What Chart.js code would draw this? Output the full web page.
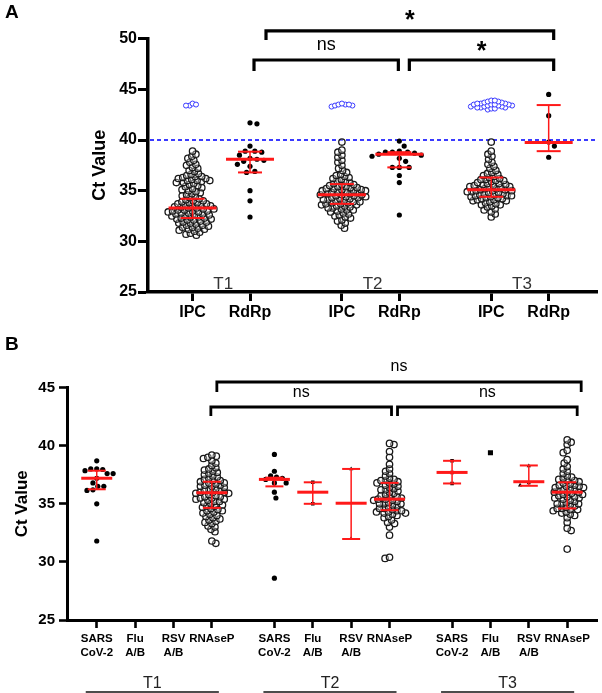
<!DOCTYPE html>
<html><head><meta charset="utf-8">
<script src="https://cdn.jsdelivr.net/npm/chart.js@4.4.1/dist/chart.umd.min.js"></script>
<style>
html,body{margin:0;padding:0;background:#fff;width:602px;height:693px;overflow:hidden;}
#wrapA{position:absolute;left:0;top:0;width:602px;height:330px;}
#wrapB{position:absolute;left:0;top:330px;width:602px;height:363px;}
.lbl{position:absolute;z-index:3;font:bold 19px "Liberation Sans",Arial,sans-serif;line-height:19px;color:#000;}
</style></head><body>
<div id="wrapA"><canvas id="cA" width="602" height="330"></canvas></div>
<div id="wrapB"><canvas id="cB" width="602" height="363"></canvas></div>
<div class="lbl" style="left:5px;top:2px">A</div>
<div class="lbl" style="left:5px;top:334px">B</div>
<script>
const FONT = '"Liberation Sans", Arial, Helvetica, sans-serif';
const RED = 'rgb(255,25,25)';
const BLUE = '#3a3aff';

// ---------------- Panel A data ----------------
const groupsA = ['T1', 'T2', 'T3'];
const targetsA = ['IPC', 'RdRp'];
const yTicksA = [25, 30, 35, 40, 45, 50];
const cutoffA = 40;
const ipcT1 = [30.6,30.7,30.8,30.9,31.0,31.1,31.2,31.2,31.3,31.4,31.4,31.5,31.6,31.6,31.7,31.8,31.8,31.9,31.9,32.0,
  32.1,32.1,32.2,32.2,32.3,32.3,32.4,32.4,32.5,32.5,32.6,32.6,32.7,32.7,32.8,32.8,32.9,32.9,33.0,33.0,33.0,
  33.1,33.1,33.2,33.2,33.3,33.3,33.4,33.4,33.5,33.5,33.6,33.6,33.7,33.7,33.8,33.8,33.9,34.0,34.0,
  34.1,34.2,34.3,34.4,34.5,34.6,34.7,34.8,34.9,35.0,35.1,35.2,35.3,35.4,35.5,35.6,35.7,35.8,35.8,35.9,36.0,36.0,36.0,
  36.1,36.2,36.2,36.3,36.4,36.4,36.5,36.6,36.7,36.9,37.0,37.2,37.3,37.5,37.6,37.8,38.0,38.2,38.4,38.6,38.9];
const rdrpT1 = [41.7,41.6,39.4,38.9,38.9,38.8,38.5,38.2,38.1,38.0,37.9,37.6,37.4,36.9,36.8,35.0,34.0,32.4];
const undetT1 = [43.4,43.6,43.5,43.4];
const ipcT2 = [31.3,31.6,31.8,32.0,32.1,32.3,32.4,32.5,32.6,32.7,32.8,32.9,33.0,
  33.1,33.1,33.2,33.3,33.3,33.4,33.5,33.5,33.6,33.6,33.7,33.7,33.8,33.8,33.9,33.9,34.0,34.0,34.1,34.1,34.2,34.2,34.3,34.3,34.4,34.4,
  34.5,34.5,34.6,34.6,34.6,34.7,34.7,34.8,34.8,34.9,34.9,35.0,35.0,35.0,35.1,35.1,35.2,35.2,35.3,35.3,35.4,35.4,35.5,35.6,35.6,35.7,35.8,
  35.9,36.0,36.1,36.2,36.3,36.4,36.5,36.6,36.8,37.0,37.2,37.5,37.8,38.0,38.3,38.5,38.8,39.0,39.8];
const rdrpT2 = [39.9,39.4,38.9,38.8,38.8,38.8,38.7,38.6,38.5,38.4,38.2,37.9,37.3,37.3,37.3,36.5,35.8,32.6];
const undetT2 = [43.3,43.4,43.5,43.5,43.6,43.4,43.5];
const ipcT3 = [32.4,32.7,32.9,33.1,33.2,33.4,33.5,33.6,33.6,33.7,33.8,33.9,
  34.0,34.0,34.1,34.1,34.2,34.2,34.3,34.3,34.4,34.4,34.5,34.5,34.5,34.6,34.6,34.7,34.7,34.8,34.8,34.9,34.9,
  35.0,35.0,35.0,35.1,35.1,35.2,35.2,35.3,35.3,35.4,35.4,35.5,35.5,35.6,35.6,35.7,35.7,35.8,35.9,
  36.0,36.0,36.1,36.1,36.2,36.3,36.4,36.5,36.6,36.7,36.8,37.0,37.2,37.4,37.6,37.8,38.1,38.4,38.6,38.9,39.8];
const rdrpT3 = [44.5,42.4,39.8,39.4,38.3];
const undetT3 = [43.0,43.1,43.1,43.2,43.2,43.2,43.3,43.3,43.3,43.4,43.4,43.4,43.5,43.5,43.5,43.5,43.6,43.6,43.6,43.7,43.7,43.8,43.8,43.9,43.9];
const medianA = [33.3, 38.1, 34.6, 38.6, 35.1, 39.75];
const lowA    = [32.3, 36.8, 33.7, 37.3, 34.4, 38.9];
const highA   = [34.2, 38.85, 35.65, 38.8, 36.3, 43.45];

// ---------------- Panel B data ----------------
const groupsB = ['T1', 'T2', 'T3'];
const targetsB = [['SARS','CoV-2'], ['Flu','A/B'], ['RSV','A/B'], 'RNAseP'];
const yTicksB = [25, 30, 35, 40, 45];
const sarsT1 = [38.7,38.0,38.0,37.95,37.85,37.6,37.6,37.2,36.8,36.5,36.5,36.2,36.15,35.0,31.8];
const fluT1 = [];
const rsvT1 = [];
const rnaT1 = [31.6,31.8,32.6,32.8,33.0,33.1,33.3,33.4,33.5,33.6,33.7,33.8,33.9,34.0,
  34.1,34.2,34.3,34.4,34.4,34.5,34.6,34.7,34.8,34.8,34.9,35.0,35.1,35.2,35.2,35.3,35.4,35.4,35.5,35.5,35.6,35.6,35.7,35.8,35.9,35.9,36.0,36.0,36.0,
  36.1,36.2,36.2,36.3,36.4,36.5,36.5,36.6,36.6,36.7,36.8,36.8,36.9,37.0,37.0,37.1,37.2,37.3,37.4,37.5,37.6,37.7,37.8,37.9,38.0,
  38.1,38.3,38.5,38.7,38.9,39.0,39.1,39.2];
const sarsT2 = [39.25,37.8,37.4,37.3,37.2,37.1,36.8,36.8,36.0,35.5,28.6];
const fluT2 = [36.85,35.0];
const rsvT2 = [38.0,32.0];
const rnaT2 = [30.3,30.4,32.3,33.0,33.3,33.4,33.6,33.8,33.9,34.0,34.1,34.2,34.2,34.3,34.3,34.4,34.4,34.5,
  34.6,34.6,34.7,34.8,34.9,35.0,35.0,35.0,35.1,35.2,35.3,35.3,35.4,35.4,35.5,35.6,35.6,35.7,35.8,35.9,36.0,36.1,36.2,36.2,36.3,36.4,36.5,
  36.6,36.7,36.8,36.8,36.9,37.0,37.0,37.1,37.2,37.4,37.6,37.8,38.0,38.4,39.0,39.5,40.1,40.2];
const sarsT3 = [38.7,37.7,36.75];
const fluT3 = [39.4];
const rsvT3 = [38.25,36.8,36.6];
const rnaT3 = [31.1,32.7,32.9,33.4,33.8,34.0,34.1,34.2,34.3,34.4,34.5,34.5,34.6,34.6,34.7,34.8,34.9,35.0,35.0,35.0,35.1,
  35.2,35.3,35.4,35.5,35.5,35.6,35.6,35.7,35.8,35.8,35.9,36.0,36.0,36.0,36.1,36.2,36.2,36.3,36.4,36.4,36.5,36.5,36.6,36.6,36.7,36.8,36.9,37.0,37.0,
  37.1,37.2,37.3,37.4,37.6,37.8,38.0,38.2,38.5,38.8,39.4,39.6,40.1,40.3,40.5];
const medianB = [37.2, null, null, 35.95, 37.1, 36.0, 35.05, 35.4, 37.7, null, 36.9, 36.0];
const lowB    = [36.25, null, null, 34.65, 36.5, 35.0, 31.97, 34.45, 36.75, null, 36.55, 34.6];
const highB   = [37.85, null, null, 36.9, 37.25, 36.85, 38.0, 36.8, 38.7, null, 38.3, 36.85];

// ---------------- layout helpers ----------------
const GAP_A = 2.6;   // group spacing (in slot units) panel A
const GAP_B = 4.63;  // group spacing panel B
const posA = (g, k) => 1 + g * GAP_A + k;
const posB = (g, k) => g * GAP_B + k;
const catPosA = [], catLabelsA = [];
groupsA.forEach((g, gi) => targetsA.forEach((t, ti) => { catPosA.push(posA(gi, ti)); catLabelsA.push(t); }));
const catPosB = [], catLabelsB = [];
groupsB.forEach((g, gi) => targetsB.forEach((t, ti) => { catPosB.push(posB(gi, ti)); catLabelsB.push(t); }));

function swarm(ys, sep) {
  const idx = ys.map((y, i) => i).sort((a, b) => ys[a] - ys[b]);
  const placed = [], xs = new Array(ys.length);
  let flip = 1;
  for (const i of idx) {
    const y = ys[i];
    const near = placed.filter(p => Math.abs(p.y - y) < sep);
    const cands = [0];
    for (const p of near) {
      const dx = Math.sqrt(Math.max(sep * sep - (p.y - y) * (p.y - y), 0));
      cands.push(p.x + dx, p.x - dx);
    }
    cands.sort((a, b) => (Math.abs(a) - Math.abs(b)) || flip * (a - b));
    let best = 0;
    for (const c of cands) {
      if (near.every(p => (p.x - c) * (p.x - c) + (p.y - y) * (p.y - y) >= sep * sep - 1e-6)) { best = c; break; }
    }
    flip = -flip;
    xs[i] = best;
    placed.push({ x: best, y });
  }
  return xs;
}

function mkDs(values, center, sep, style) {
  return Object.assign({
    values, center, sep,
    data: values.map(v => ({ x: center, y: v })),
    pointBorderWidth: 1.3, pointHoverRadius: 0
  }, style);
}

function applySwarm(chart) {
  const xs = chart.scales.x, ys = chart.scales.y;
  chart.data.datasets.forEach(ds => {
    const cpx = xs.getPixelForValue(ds.center);
    const py = ds.values.map(v => ys.getPixelForValue(v));
    const off = swarm(py, ds.sep);
    ds.data = ds.values.map((v, i) => ({ x: xs.getValueForPixel(cpx + off[i]), y: v }));
  });
  chart.update('none');
}

function line(ctx, x1, y1, x2, y2) { ctx.beginPath(); ctx.moveTo(x1, y1); ctx.lineTo(x2, y2); ctx.stroke(); }

function textAt(ctx, txt, x, y, font, color) {
  ctx.save();
  ctx.font = font; ctx.fillStyle = color || '#000';
  ctx.textAlign = 'center'; ctx.textBaseline = 'alphabetic';
  const m = ctx.measureText(txt);
  const asc = m.actualBoundingBoxAscent, desc = m.actualBoundingBoxDescent;
  ctx.fillText(txt, x, y + (asc - desc) / 2);
  ctx.restore();
}

function drawBars(chart, pos, med, lo, hi, o) {
  const ctx = chart.ctx, xs = chart.scales.x, ys = chart.scales.y;
  ctx.save(); ctx.strokeStyle = RED; ctx.lineCap = 'butt';
  pos.forEach((p, i) => {
    if (med[i] == null) return;
    const x = xs.getPixelForValue(p);
    const ym = ys.getPixelForValue(med[i]), yl = ys.getPixelForValue(lo[i]), yh = ys.getPixelForValue(hi[i]);
    ctx.lineWidth = o.vw; line(ctx, x, yl, x, yh);
    ctx.lineWidth = o.cw;
    line(ctx, x - o.capW / 2, yl, x + o.capW / 2, yl);
    line(ctx, x - o.capW / 2, yh, x + o.capW / 2, yh);
    ctx.lineWidth = o.mw; line(ctx, x - o.medW / 2, ym, x + o.medW / 2, ym);
  });
  ctx.restore();
}

function drawBrackets(chart, list, pos, lw, labelFont, starFont) {
  const ctx = chart.ctx, xs = chart.scales.x, ys = chart.scales.y;
  ctx.save(); ctx.strokeStyle = '#000'; ctx.lineWidth = lw; ctx.lineJoin = 'miter'; ctx.lineCap = 'butt';
  list.forEach(b => {
    const x1 = xs.getPixelForValue(pos[b.from]) + b.dxFrom;
    const x2 = xs.getPixelForValue(pos[b.to]) + b.dxTo;
    const y = ys.getPixelForValue(b.y);
    ctx.beginPath(); ctx.moveTo(x1, y + b.drop); ctx.lineTo(x1, y); ctx.lineTo(x2, y); ctx.lineTo(x2, y + b.drop); ctx.stroke();
    textAt(ctx, b.label, (x1 + x2) / 2, y - b.gap, b.label === '*' ? starFont : labelFont, '#000');
  });
  ctx.restore();
}

// ---------------- Panel A chart ----------------
const bracketsA = [
  { from: 1, to: 5, dxFrom: 16, dxTo: 5, y: 50.77, drop: 9, gap: 16, label: '*' },
  { from: 1, to: 3, dxFrom: 4, dxTo: -1, y: 47.9, drop: 11, gap: 15, label: 'ns' },
  { from: 3, to: 5, dxFrom: 10, dxTo: 5, y: 47.9, drop: 11, gap: 14, label: '*' }
];
const ipcSets = [ipcT1, ipcT2, ipcT3], rdrpSets = [rdrpT1, rdrpT2, rdrpT3], undetSets = [undetT1, undetT2, undetT3];
const OPEN_FILL = 'rgba(255,255,255,0.35)';
const dsA = [];
groupsA.forEach((g, gi) => {
  dsA.push(mkDs(ipcSets[gi], posA(gi, 0), 4.5, { pointRadius: 3.2, pointStyle: 'circle', pointBackgroundColor: OPEN_FILL, pointBorderColor: '#1a1a1a' }));
  dsA.push(mkDs(rdrpSets[gi], posA(gi, 1), 7, { pointRadius: 2.6, pointStyle: 'circle', pointBackgroundColor: '#000', pointBorderColor: '#000', pointBorderWidth: 0 }));
  dsA.push(mkDs(undetSets[gi], posA(gi, 0), 3.6, { pointRadius: 2.5, pointStyle: 'circle', pointBackgroundColor: '#fff', pointBorderColor: BLUE, pointBorderWidth: 1 }));
});

const plugA = {
  id: 'annA',
  beforeDatasetsDraw(chart) {
    const ctx = chart.ctx, ys = chart.scales.y, a = chart.chartArea;
    const y = ys.getPixelForValue(cutoffA);
    ctx.save(); ctx.strokeStyle = BLUE; ctx.lineWidth = 2; ctx.setLineDash([4, 3]);
    line(ctx, a.left + 2, y, a.right, y); ctx.restore();
  },
  afterDatasetsDraw(chart) {
    drawBars(chart, catPosA, medianA, lowA, highA, { vw: 1.5, cw: 2, mw: 3, capW: 24, medW: 48 });
    const xs = chart.scales.x, ys = chart.scales.y;
    groupsA.forEach((g, gi) => {
      const x = (xs.getPixelForValue(posA(gi, 0)) + xs.getPixelForValue(posA(gi, 1))) / 2 + 2;
      textAt(chart.ctx, g, x, ys.getPixelForValue(25.9), '17px ' + FONT, '#333');
    });
  },
  afterDraw(chart) {
    drawBrackets(chart, bracketsA, catPosA, 3.2, '18px ' + FONT, 'bold 25px ' + FONT);
  }
};

const chartA = new Chart(document.getElementById('cA'), {
  type: 'scatter',
  data: { datasets: dsA },
  options: {
    responsive: false, animation: false, events: [],
    layout: { padding: { top: 38.7, left: 0, right: 0, bottom: 0 } },
    plugins: { legend: { display: false }, tooltip: { enabled: false } },
    scales: {
      x: {
        type: 'linear', min: 0.224, max: 8.05,
        afterBuildTicks: s => { s.ticks = catPosA.map(v => ({ value: v })); },
        afterFit: s => { s.height = 38; },
        ticks: { autoSkip: false, maxRotation: 0, minRotation: 0, padding: 2, color: '#000',
          font: { family: FONT, size: 16, weight: 'bold' }, callback: (v, i) => catLabelsA[i] },
        grid: { display: true, drawOnChartArea: false, drawTicks: true, tickLength: 9, tickWidth: 3, tickColor: '#000' },
        border: { display: true, color: '#000', width: 3.5 }
      },
      y: {
        min: 25, max: 50,
        afterBuildTicks: s => { s.ticks = yTicksA.map(v => ({ value: v })); },
        afterFit: s => { s.width = 148; },
        ticks: { padding: 1, color: '#000', font: { family: FONT, size: 16, weight: 'bold' } },
        title: { display: true, text: 'Ct Value', color: '#000', font: { family: FONT, size: 18, weight: 'bold' }, padding: { top: 89, bottom: 0 } },
        grid: { display: true, drawOnChartArea: false, drawTicks: true, tickLength: 10, tickWidth: 3, tickColor: '#000' },
        border: { display: true, color: '#000', width: 3.5 }
      }
    }
  },
  plugins: [plugA]
});
applySwarm(chartA);

// ---------------- Panel B chart ----------------
const bracketsB = [
  { from: 3, to: 11, dxFrom: 5, dxTo: 14, y: 45.48, drop: 10, gap: 16, label: 'ns' },
  { from: 3, to: 7, dxFrom: -1, dxTo: 2, y: 43.33, drop: 9, gap: 15, label: 'ns' },
  { from: 7, to: 11, dxFrom: 8, dxTo: 10, y: 43.33, drop: 9, gap: 15, label: 'ns' }
];
const setsB = [[sarsT1, fluT1, rsvT1, rnaT1], [sarsT2, fluT2, rsvT2, rnaT2], [sarsT3, fluT3, rsvT3, rnaT3]];
const stylesB = [
  [{ r: 2.6, s: 'circle', sep: 6 }, { r: 2.5, s: 'rect', sep: 6 }, { r: 2.5, s: 'triangle', sep: 6 }, { r: 3.2, s: 'open', sep: 4.6 }],
  [{ r: 2.6, s: 'circle', sep: 6 }, { r: 2.5, s: 'rect', sep: 6 }, { r: 2.5, s: 'triangle', sep: 6 }, { r: 3.2, s: 'open', sep: 4.6 }],
  [{ r: 2.5, s: 'rect', sep: 6 }, { r: 3.6, s: 'rect', sep: 6 }, { r: 2.5, s: 'triangle', sep: 9 }, { r: 3.2, s: 'open', sep: 4.6 }]
];
const dsB = [];
groupsB.forEach((g, gi) => targetsB.forEach((t, ti) => {
  const st = stylesB[gi][ti];
  const vals = setsB[gi][ti];
  if (!vals.length) return;
  if (st.s === 'open') {
    dsB.push(mkDs(vals, posB(gi, ti), st.sep, { pointRadius: st.r, pointStyle: 'circle', pointBackgroundColor: OPEN_FILL, pointBorderColor: '#1a1a1a' }));
  } else {
    dsB.push(mkDs(vals, posB(gi, ti), st.sep, { pointRadius: st.r, pointStyle: st.s, pointBackgroundColor: '#000', pointBorderColor: '#000', pointBorderWidth: 0 }));
  }
}));

const plugB = {
  id: 'annB',
  afterDatasetsDraw(chart) {
    drawBars(chart, catPosB, medianB, lowB, highB, { vw: 1.5, cw: 2, mw: 3, capW: 18, medW: 31 });
  },
  afterDraw(chart) {
    drawBrackets(chart, bracketsB, catPosB, 2.8, '16px ' + FONT, 'bold 25px ' + FONT);
    const ctx = chart.ctx, xs = chart.scales.x;
    groupsB.forEach((g, gi) => {
      const x1 = xs.getPixelForValue(posB(gi, 0)) - 11;
      const x2 = xs.getPixelForValue(posB(gi, 3)) + 7;
      ctx.save(); ctx.strokeStyle = '#111'; ctx.lineWidth = 1.6;
      line(ctx, x1, 362, x2, 362); ctx.restore();
      textAt(ctx, g, (x1 + x2) / 2, 352, '16px ' + FONT, '#222');
    });
  }
};

const chartB = new Chart(document.getElementById('cB'), {
  type: 'scatter',
  data: { datasets: dsB },
  options: {
    responsive: false, animation: false, events: [],
    layout: { padding: { top: 57.6, left: 0, right: 0, bottom: 0 } },
    plugins: { legend: { display: false }, tooltip: { enabled: false } },
    scales: {
      x: {
        type: 'linear', min: -0.775, max: 13.05,
        afterBuildTicks: s => { s.ticks = catPosB.map(v => ({ value: v })); },
        afterFit: s => { s.height = 73; },
        ticks: { autoSkip: false, maxRotation: 0, minRotation: 0, padding: 4, color: '#000',
          font: { family: FONT, size: 11.5, weight: 'bold', lineHeight: 1.22 }, callback: (v, i) => catLabelsB[i] },
        grid: { display: true, drawOnChartArea: false, drawTicks: true, tickLength: 8, tickWidth: 2.6, tickColor: '#000' },
        border: { display: true, color: '#000', width: 3 }
      },
      y: {
        min: 25, max: 45,
        afterBuildTicks: s => { s.ticks = yTicksB.map(v => ({ value: v })); },
        afterFit: s => { s.width = 67; },
        ticks: { padding: 4, color: '#000', font: { family: FONT, size: 15, weight: 'bold' } },
        title: { display: true, text: 'Ct Value', color: '#000', font: { family: FONT, size: 17, weight: 'bold' }, padding: { top: 11.8, bottom: 0 } },
        grid: { display: true, drawOnChartArea: false, drawTicks: true, tickLength: 8, tickWidth: 2.6, tickColor: '#000' },
        border: { display: true, color: '#000', width: 3 }
      }
    }
  },
  plugins: [plugB]
});
applySwarm(chartB);
</script>
</body></html>
